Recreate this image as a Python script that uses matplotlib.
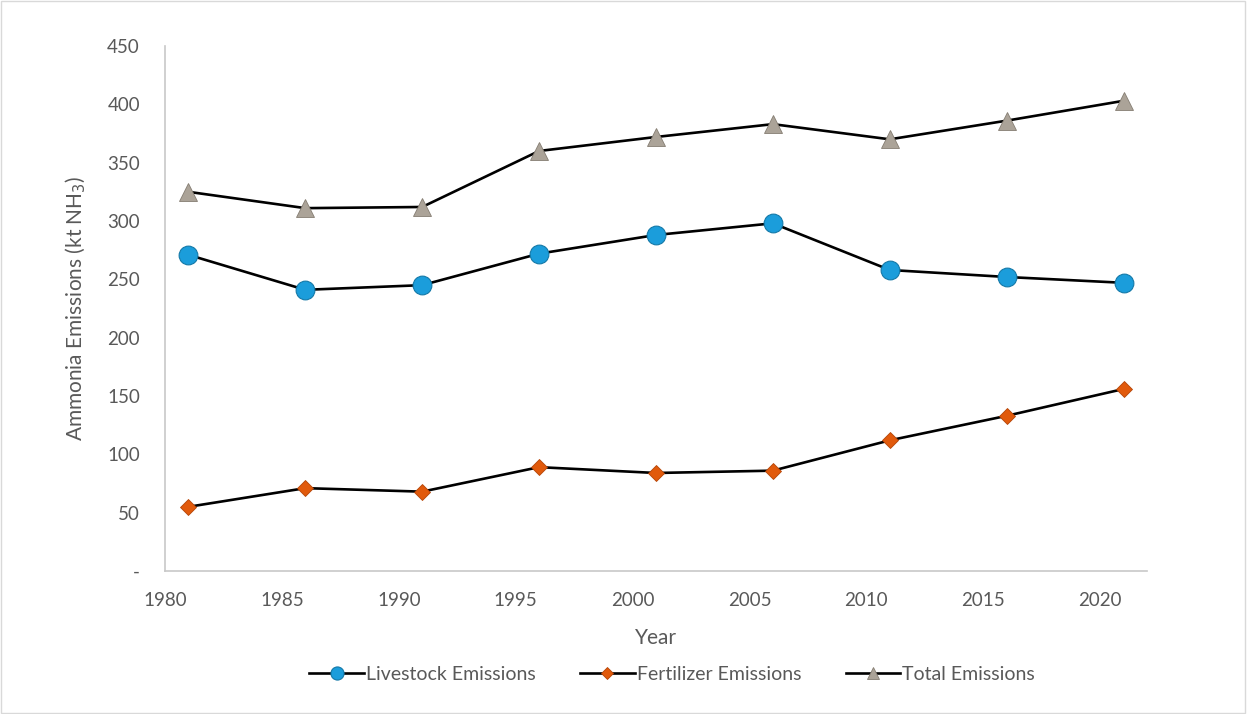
import matplotlib
matplotlib.use("Agg")
import matplotlib.pyplot as plt
from matplotlib.patches import Rectangle

years = [1981, 1986, 1991, 1996, 2001, 2006, 2011, 2016, 2021]
livestock = [271, 241, 245, 272, 288, 298, 258, 252, 247]
fertilizer = [55, 71, 68, 89, 84, 86, 112, 133, 156]
total = [325, 311, 312, 360, 372, 383, 370, 386, 403]

x_ticks = [1980, 1985, 1990, 1995, 2000, 2005, 2010, 2015, 2020]
y_ticks = [0, 50, 100, 150, 200, 250, 300, 350, 400, 450]
y_labels = ["-", "50", "100", "150", "200", "250", "300", "350", "400", "450"]

plt.rcParams["font.family"] = ["Lato", "DejaVu Sans"]
text_color = "#595959"

fig = plt.figure(figsize=(12.47, 7.14), dpi=100)
ax = fig.add_axes([0.1323, 0.2003, 0.7875, 0.7353])

ax.plot(years, livestock, color="black", lw=1.9, marker="o", ms=13.5,
        mfc="#1B9DDB", mec="#1479A8", mew=0.8, label="Livestock Emissions", zorder=3)
ax.plot(years, fertilizer, color="black", lw=1.9, marker="D", ms=8.5,
        mfc="#E15A0C", mec="#B44508", mew=0.6, label="Fertilizer Emissions", zorder=3)
ax.plot(years, total, color="black", lw=1.9, marker="^", ms=13,
        mfc="#ABA398", mec="#857D72", mew=0.6, label="Total Emissions", zorder=3)

ax.set_xlim(1980, 2022)
ax.set_ylim(0, 450)
ax.set_xticks(x_ticks)
ax.set_yticks(y_ticks)
ax.set_yticklabels(y_labels)
ax.tick_params(length=0, labelsize=13.5, colors=text_color)
ax.tick_params(axis="y", pad=18)
ax.tick_params(axis="x", pad=15)

for side in ("top", "right"):
    ax.spines[side].set_visible(False)
for side in ("left", "bottom"):
    ax.spines[side].set_color("#C8C8C8")
    ax.spines[side].set_linewidth(1.2)

ax.set_xlabel("Year", fontsize=15, color=text_color, labelpad=14)
ax.set_ylabel("Ammonia Emissions (kt NH$_3$)", fontsize=15, color=text_color, labelpad=14)

leg = fig.legend(loc="center", bbox_to_anchor=(0.539, 0.056), ncol=3, frameon=False,
                 fontsize=14, handlelength=2.8, columnspacing=2.3, handletextpad=0.1,
                 markerscale=0.7)
for t in leg.get_texts():
    t.set_color(text_color)

fig.patches.append(Rectangle((0.001, 0.001), 0.997, 0.997, transform=fig.transFigure,
                             fill=False, edgecolor="#D9D9D9", lw=1.0))

fig.savefig("out.png", dpi=100, facecolor="white")
